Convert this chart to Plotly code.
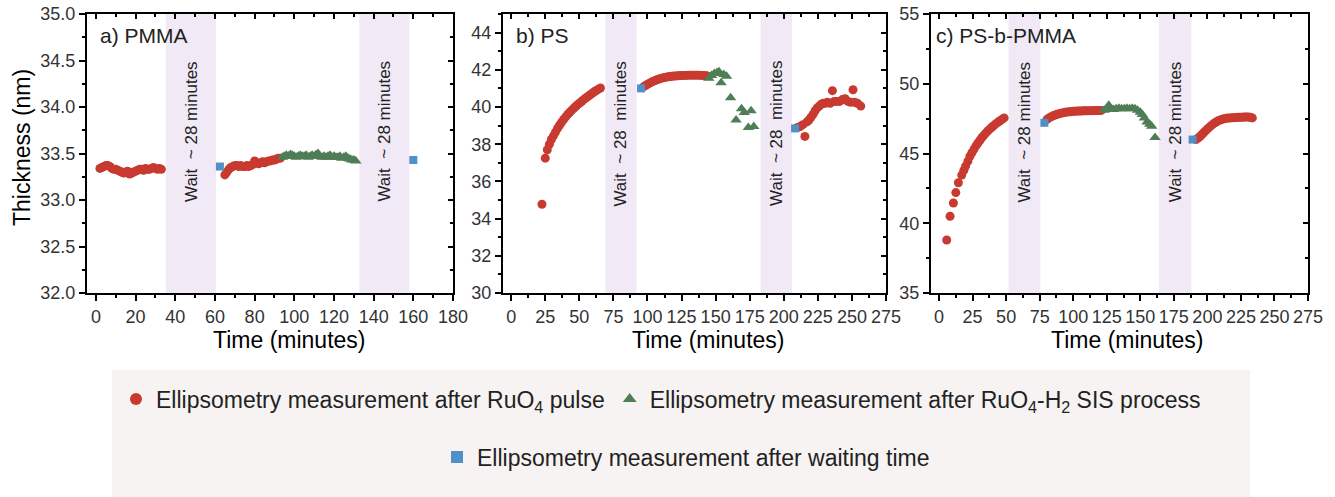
import plotly.graph_objects as go

# ---------------- data ----------------
# Panel a) PMMA
a_red_x = [2, 3, 4, 5, 6, 7, 8, 9, 10, 11, 12, 13, 14, 15, 16, 17, 18, 19, 20, 21, 22, 23, 24, 25, 26, 27, 28, 29, 30, 31, 32, 33,
           65, 66, 67, 68, 69, 70, 71, 72, 73, 74, 75, 76, 77, 78, 79, 80, 81, 82, 83, 84, 85, 86, 87, 88, 89, 90, 91, 92, 93]
a_red_y = [33.34, 33.35, 33.36, 33.37, 33.37, 33.36, 33.34, 33.33, 33.33, 33.32, 33.31, 33.30, 33.29, 33.30, 33.31, 33.28,
           33.29, 33.30, 33.31, 33.32, 33.33, 33.33, 33.32, 33.34, 33.33, 33.33, 33.34, 33.35, 33.34, 33.33, 33.34, 33.33,
           33.27, 33.30, 33.33, 33.35, 33.36, 33.37, 33.37, 33.36, 33.37, 33.36, 33.36, 33.37, 33.36, 33.37, 33.38, 33.42,
           33.40, 33.39, 33.40, 33.41, 33.40, 33.41, 33.42, 33.42, 33.43, 33.43, 33.44, 33.45, 33.45]
a_green_x = [94, 95, 96, 97, 98, 99, 100, 101, 102, 103, 104, 105, 106, 107, 108, 109, 110, 111, 112, 113, 114, 115, 116,
             117, 118, 119, 120, 121, 122, 123, 124, 125, 126, 127, 128, 129, 130, 131]
a_green_y = [33.46, 33.47, 33.48, 33.47, 33.49, 33.48, 33.47, 33.46, 33.47, 33.48, 33.47, 33.47, 33.48, 33.46, 33.47, 33.48,
             33.47, 33.49, 33.50, 33.47, 33.46, 33.47, 33.46, 33.47, 33.48, 33.46, 33.47, 33.46, 33.46, 33.47, 33.45, 33.46,
             33.47, 33.45, 33.44, 33.43, 33.43, 33.42]
a_blue_x = [62.5, 160]
a_blue_y = [33.36, 33.43]
a_wait = [[35.2, 60.5], [132.8, 158]]

# Panel b) PS
b_red_x = [22.6, 25, 26.5, 28, 29.5, 31, 32.5, 34, 35.5, 37, 38.5, 40, 41.5, 43, 44.5, 46, 47.5, 49, 50.5, 52, 53.5, 55,
           56.5, 58, 59.5, 61, 62.5, 64, 65.5,
           97, 98.5, 100, 101.5, 103, 104.5, 106, 107.5, 109, 110.5, 112, 113.5, 115, 116.5, 118, 119.5, 121, 122.5, 124,
           125.5, 127, 128.5, 130, 131.5, 133, 134.5, 136, 137.5, 139, 140.5, 142, 143.5,
           210, 212, 214, 215.5, 217, 218.5, 220, 221.5, 223, 224.5, 226, 227.5, 229, 230.5, 232, 234, 235.7, 237, 239,
           241, 243, 245, 247, 249, 250.8, 252, 254, 256.5]
b_red_y = [34.77, 37.25, 37.7, 38.0, 38.25, 38.45, 38.65, 38.85, 39.02, 39.18, 39.33, 39.47, 39.6, 39.72, 39.83, 39.94,
           40.04, 40.14, 40.23, 40.32, 40.41, 40.5, 40.58, 40.66, 40.74, 40.82, 40.89, 40.96, 41.02,
           41.08, 41.15, 41.22, 41.28, 41.34, 41.39, 41.44, 41.48, 41.52, 41.55, 41.58, 41.6, 41.62, 41.64, 41.65, 41.66,
           41.67, 41.68, 41.69, 41.7, 41.7, 41.7, 41.71, 41.71, 41.71, 41.71, 41.71, 41.71, 41.7, 41.7, 41.7, 41.68,
           38.9, 38.95, 39.05, 38.42, 39.2, 39.3, 39.45, 39.6, 39.8, 39.95, 40.05, 40.15, 40.2, 40.2, 40.25, 40.2, 40.88,
           40.3, 40.3, 40.3, 40.4, 40.45, 40.3, 40.25, 40.93, 40.25, 40.2, 40.05]
b_green_x = [145, 147, 149, 151, 152.5, 154, 156, 158, 161, 165, 169, 171, 174, 176, 178]
b_green_y = [41.55, 41.7, 41.8, 41.85, 41.9, 41.3, 41.75, 41.65, 40.5, 39.3, 39.9, 39.7, 38.9, 39.8, 38.95]
b_blue_x = [95.3, 208.3]
b_blue_y = [41.0, 38.85]
b_wait = [[69.1, 92], [183, 206]]

# Panel c) PS-b-PMMA
c_red_x = [5.7, 8.2, 10.7, 12.5, 14.4, 16.9, 18.5, 19.8, 21.5, 23, 24.5, 26, 27.5, 29, 30.5, 32, 33.5, 35, 36.5, 38, 39.5,
           41, 42.5, 44, 45.5, 47, 48.5,
           80.5, 82, 83.5, 85, 86.5, 88, 89.5, 91, 92.5, 94, 95.5, 97, 98.5, 100, 101.5, 103, 104.5, 106, 107.5, 109,
           110.5, 112, 113.5, 115, 116.5, 118, 119.5, 121,
           191.5, 193, 194.5, 196, 197.5, 199, 200.5, 202, 203.5, 205, 206.5, 208, 209.5, 211, 212.5, 214, 215.5, 217,
           218.5, 220, 221.5, 223, 224.5, 226, 227.5, 229, 230.5, 232, 233.5]
c_red_y = [38.8, 40.5, 41.45, 42.2, 42.9, 43.45, 43.8, 44.1, 44.45, 44.8, 45.05, 45.3, 45.55, 45.75, 45.95, 46.15, 46.32,
           46.48, 46.63, 46.77, 46.9, 47.02, 47.14, 47.25, 47.35, 47.45, 47.55,
           47.45, 47.55, 47.63, 47.7, 47.76, 47.81, 47.85, 47.89, 47.92, 47.95, 47.97, 47.99, 48.0, 48.02, 48.03, 48.04,
           48.05, 48.05, 48.06, 48.06, 48.06, 48.07, 48.07, 48.07, 48.08, 48.08, 48.08, 48.09,
           46.0, 46.1, 46.22, 46.36, 46.52, 46.66, 46.8, 46.93, 47.05, 47.16, 47.26, 47.34, 47.4, 47.45, 47.49, 47.52,
           47.54, 47.55, 47.56, 47.57, 47.58, 47.59, 47.6, 47.6, 47.61, 47.62, 47.62, 47.6, 47.55]
c_green_x = [123, 125, 126.5, 128, 130, 132, 134, 136, 138, 140, 142, 144, 146, 148, 150, 151.5, 153, 155, 157, 158.5, 161]
c_green_y = [48.1, 48.25, 48.45, 48.2, 48.15, 48.2, 48.25, 48.2, 48.2, 48.25, 48.2, 48.25, 48.2, 48.1, 47.95, 47.8, 47.55,
             47.25, 47.1, 46.95, 46.15]
c_blue_x = [78.5, 189]
c_blue_y = [47.2, 46.0]
c_wait = [[51.8, 75.5], [163.9, 188]]

panel_labels = ["a) PMMA", "b) PS", "c) PS-b-PMMA"]
wait_labels = ["Wait\u00a0 ~ 28 minutes", "Wait\u00a0 ~ 28\u00a0 minutes", "Wait\u00a0 ~ 28 minutes"]
wait_text_y = [33.74, 38.57, 46.53]
series_names = ["Ellipsometry measurement after RuO<sub>4</sub> pulse",
                "Ellipsometry measurement after RuO<sub>4</sub>-H<sub>2</sub> SIS process",
                "Ellipsometry measurement after waiting time"]

# ---------------- styling ----------------
RED = "#c83a30"
GREEN = "#4f7d55"
BLUE = "#4f90c6"
BAND = "#f1e9f5"
FONT = "Liberation Sans, Arial, sans-serif"
W, H = 1335, 497

panels = [
    dict(red=(a_red_x, a_red_y), green=(a_green_x, a_green_y), blue=(a_blue_x, a_blue_y), wait=a_wait,
         xdom=[87 / W, 453 / W], xr=[-4.5, 180], yr=[32, 35], xd=20, xm=10, yd=0.5, ym=0.25, fmt=".1f",
         label_px=98, title_px=289),
    dict(red=(b_red_x, b_red_y), green=(b_green_x, b_green_y), blue=(b_blue_x, b_blue_y), wait=b_wait,
         xdom=[503 / W, 886 / W], xr=[-6, 275], yr=[30, 45], xd=25, xm=12.5, yd=2, ym=1, fmt="d",
         label_px=514, title_px=708),
    dict(red=(c_red_x, c_red_y), green=(c_green_x, c_green_y), blue=(c_blue_x, c_blue_y), wait=c_wait,
         xdom=[931 / W, 1308 / W], xr=[-6, 275], yr=[35, 55], xd=25, xm=12.5, yd=5, ym=2.5, fmt="d",
         label_px=934, title_px=1127),
]
ydom = [1 - 293 / H, 1 - 14 / H]

fig = go.Figure()
shapes = []
annotations = []

for i, p in enumerate(panels):
    n = "" if i == 0 else str(i + 1)
    xa, ya = "x" + n, "y" + n
    k = str(i + 4)
    first = i == 0
    fig.add_trace(go.Scatter(x=p["red"][0], y=p["red"][1], mode="markers", xaxis=xa, yaxis=ya,
                             marker=dict(symbol="circle", size=9, color=RED),
                             name=series_names[0], legendgroup="red", showlegend=first, legend="legend"))
    fig.add_trace(go.Scatter(x=p["green"][0], y=p["green"][1], mode="markers", xaxis=xa, yaxis=ya,
                             marker=dict(symbol="triangle-up", size=10, color=GREEN),
                             name=series_names[1], legendgroup="green", showlegend=first, legend="legend"))
    fig.add_trace(go.Scatter(x=p["blue"][0], y=p["blue"][1], mode="markers", xaxis=xa, yaxis=ya,
                             marker=dict(symbol="square", size=8, color=BLUE),
                             name=series_names[2], legendgroup="blue", showlegend=first, legend="legend2"))
    # empty traces so that the mirrored (top / right) axes are drawn
    fig.add_trace(go.Scatter(x=[], y=[], mode="markers", xaxis="x" + k, yaxis=ya, showlegend=False,
                             hoverinfo="skip"))
    fig.add_trace(go.Scatter(x=[], y=[], mode="markers", xaxis=xa, yaxis="y" + k, showlegend=False,
                             hoverinfo="skip"))

    axis_common = dict(showline=True, linecolor="black", linewidth=2, showgrid=False, zeroline=False,
                       ticks="outside", ticklen=6, tickwidth=1.5, tickcolor="black",
                       tickfont=dict(family=FONT, size=18, color="#333"))
    fig.update_layout(**{
        "xaxis" + n: dict(domain=p["xdom"], anchor=ya, range=p["xr"], dtick=p["xd"], tick0=0,
                          minor=dict(dtick=p["xm"], ticks="outside", ticklen=3, tickwidth=1.5, tickcolor="black"),
                          **axis_common),
        "yaxis" + n: dict(domain=ydom, anchor=xa, range=p["yr"], dtick=p["yd"], tick0=0, tickformat=p["fmt"],
                          minor=dict(dtick=p["ym"], ticks="outside", ticklen=3, tickwidth=1.5, tickcolor="black"),
                          **axis_common),
        "xaxis" + k: dict(overlaying=xa, anchor=ya, side="top", range=p["xr"], dtick=p["xd"], tick0=0,
                          showline=True, linecolor="black", linewidth=2, showgrid=False, zeroline=False,
                          ticks="inside", ticklen=5, tickwidth=1.5, tickcolor="black", showticklabels=False,
                          minor=dict(dtick=p["xm"], ticks="inside", ticklen=3, tickwidth=1.5, tickcolor="black")),
        "yaxis" + k: dict(overlaying=ya, anchor=xa, side="right", range=p["yr"], dtick=p["yd"], tick0=0,
                          showline=True, linecolor="black", linewidth=2, showgrid=False, zeroline=False,
                          ticks="inside", ticklen=5, tickwidth=1.5, tickcolor="black", showticklabels=False,
                          minor=dict(dtick=p["ym"], ticks="inside", ticklen=3, tickwidth=1.5, tickcolor="black")),
    })

    for (w0, w1) in p["wait"]:
        shapes.append(dict(type="rect", xref=xa, yref=ya + " domain", x0=w0, x1=w1, y0=0, y1=1,
                           fillcolor=BAND, line=dict(width=0), layer="below"))
        annotations.append(dict(x=(w0 + w1) / 2, y=wait_text_y[i], xref=xa, yref=ya, text=wait_labels[i],
                                textangle=-90, showarrow=False, font=dict(family=FONT, size=17, color="#222"),
                                xanchor="center", yanchor="middle"))
    annotations.append(dict(x=p["label_px"] / W, y=1 - 35 / H, xref="paper", yref="paper", text=panel_labels[i],
                            showarrow=False, xanchor="left", yanchor="middle",
                            font=dict(family=FONT, size=21, color="#222")))
    annotations.append(dict(x=p["title_px"] / W, y=1 - 340 / H, xref="paper", yref="paper", text="Time (minutes)",
                            showarrow=False, xanchor="center", yanchor="middle",
                            font=dict(family=FONT, size=23, color="black")))

annotations.append(dict(x=22 / W, y=1 - 148 / H, xref="paper", yref="paper", text="Thickness (nm)",
                        textangle=-90, showarrow=False, xanchor="center", yanchor="middle",
                        font=dict(family=FONT, size=23, color="black")))

# legend background box
shapes.append(dict(type="rect", xref="paper", yref="paper", x0=112 / W, x1=1250 / W, y0=0, y1=1 - 370 / H,
                   fillcolor="#f6f3f2", line=dict(width=0), layer="below"))

fig.update_layout(
    width=W, height=H,
    margin=dict(l=0, r=0, t=0, b=0, autoexpand=False),
    paper_bgcolor="white", plot_bgcolor="white",
    font=dict(family=FONT, color="#222"),
    shapes=shapes, annotations=annotations,
    legend=dict(orientation="h", x=661 / W, xanchor="center", y=1 - 399 / H, yanchor="middle",
                bgcolor="rgba(0,0,0,0)", font=dict(family=FONT, size=23, color="#222"),
                itemsizing="constant", itemclick=False),
    legend2=dict(orientation="h", x=686 / W, xanchor="center", y=1 - 457 / H, yanchor="middle",
                 bgcolor="rgba(0,0,0,0)", font=dict(family=FONT, size=23, color="#222"),
                 itemsizing="constant", itemclick=False),
)

fig.write_html("out.html", config={"displayModeBar": False},
               post_script="document.body.style.margin='0';document.body.style.overflow='hidden';")
